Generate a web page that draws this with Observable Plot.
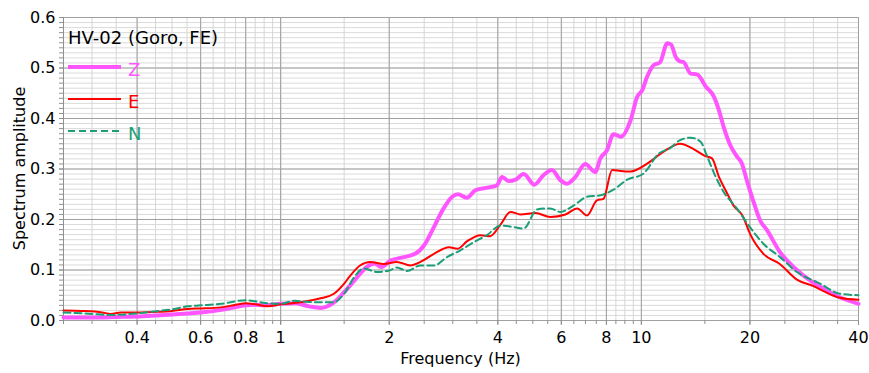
<!DOCTYPE html>
<html>
<head>
<meta charset="utf-8">
<script src="https://cdn.jsdelivr.net/npm/d3@7"></script>
<script src="https://cdn.jsdelivr.net/npm/@observablehq/plot@0.6"></script>
<style>
  body { margin: 0; background: #fff; }
  #chart svg { font-family: "DejaVu Sans", Verdana, sans-serif; display: block; }
</style>
</head>
<body>
<div id="chart"></div>
<script>
// HV-02 (Goro, FE): spectrum amplitude of the three components
const title = "HV-02 (Goro, FE)";
const xLabel = "Frequency (Hz)";
const yLabel = "Spectrum amplitude";

const freqZ = [0.25, 0.30, 0.35, 0.40, 0.45, 0.50, 0.55, 0.60, 0.70, 0.80, 0.85, 0.90, 1.00, 1.10, 1.20, 1.29, 1.40, 1.50, 1.60, 1.74, 1.82, 1.90, 2.02, 2.15, 2.36, 2.50, 2.66, 2.83, 2.99, 3.10, 3.28, 3.47, 3.81, 3.98, 4.11, 4.29, 4.48, 4.72, 5.05, 5.36, 5.65, 5.96, 6.23, 6.56, 6.99, 7.45, 7.70, 8.03, 8.37, 8.78, 9.34, 9.74, 10.06, 10.38, 10.83, 11.26, 11.80, 12.10, 12.45, 12.80, 13.07, 13.70, 14.30, 15.10, 15.90, 16.40, 16.90, 17.70, 18.40, 19.00, 19.60, 20.40, 21.35, 22.30, 24.20, 26.70, 29.40, 32.00, 35.50, 40.00];
const ampZ  = [0.006, 0.006, 0.007, 0.008, 0.010, 0.012, 0.014, 0.016, 0.022, 0.030, 0.031, 0.030, 0.033, 0.034, 0.028, 0.025, 0.035, 0.056, 0.079, 0.107, 0.113, 0.106, 0.119, 0.124, 0.132, 0.149, 0.185, 0.222, 0.245, 0.250, 0.243, 0.258, 0.264, 0.268, 0.284, 0.276, 0.279, 0.290, 0.269, 0.288, 0.298, 0.278, 0.271, 0.284, 0.310, 0.294, 0.321, 0.337, 0.369, 0.364, 0.397, 0.443, 0.456, 0.483, 0.506, 0.511, 0.549, 0.546, 0.522, 0.513, 0.512, 0.489, 0.487, 0.463, 0.443, 0.417, 0.384, 0.345, 0.325, 0.311, 0.278, 0.238, 0.198, 0.179, 0.136, 0.103, 0.079, 0.063, 0.046, 0.033];

const freqE = [0.25, 0.28, 0.32, 0.338, 0.36, 0.40, 0.445, 0.50, 0.552, 0.60, 0.682, 0.75, 0.80, 0.85, 0.92, 1.00, 1.136, 1.29, 1.405, 1.50, 1.56, 1.66, 1.775, 1.93, 2.10, 2.29, 2.44, 2.66, 2.93, 3.09, 3.29, 3.58, 3.81, 4.07, 4.34, 4.62, 5.09, 5.59, 6.16, 6.64, 7.07, 7.53, 7.85, 8.30, 8.76, 9.34, 10.40, 11.50, 12.80, 14.00, 15.00, 15.70, 16.40, 17.20, 18.00, 19.10, 20.00, 21.80, 24.20, 27.00, 30.00, 32.00, 35.50, 40.00];
const ampE  = [0.020, 0.019, 0.016, 0.013, 0.016, 0.016, 0.017, 0.019, 0.023, 0.024, 0.026, 0.031, 0.034, 0.032, 0.028, 0.032, 0.036, 0.044, 0.053, 0.073, 0.089, 0.109, 0.116, 0.112, 0.116, 0.109, 0.116, 0.132, 0.145, 0.142, 0.157, 0.169, 0.167, 0.190, 0.215, 0.210, 0.213, 0.205, 0.210, 0.222, 0.208, 0.238, 0.241, 0.298, 0.296, 0.295, 0.311, 0.334, 0.350, 0.339, 0.326, 0.321, 0.285, 0.255, 0.228, 0.207, 0.172, 0.132, 0.112, 0.081, 0.068, 0.058, 0.045, 0.041];

const freqN = [0.25, 0.30, 0.338, 0.40, 0.445, 0.50, 0.552, 0.60, 0.682, 0.80, 0.85, 0.92, 1.00, 1.09, 1.18, 1.26, 1.40, 1.50, 1.60, 1.70, 1.85, 2.00, 2.10, 2.24, 2.44, 2.66, 2.90, 3.15, 3.43, 3.73, 4.07, 4.43, 4.72, 5.14, 5.59, 5.96, 6.50, 7.07, 7.70, 8.37, 9.14, 10.10, 11.20, 12.00, 12.80, 13.70, 14.60, 15.20, 15.90, 16.90, 18.40, 20.00, 21.80, 24.20, 27.00, 31.30, 35.50, 40.00];
const ampN  = [0.016, 0.013, 0.011, 0.014, 0.018, 0.022, 0.028, 0.030, 0.033, 0.040, 0.038, 0.034, 0.033, 0.039, 0.037, 0.036, 0.036, 0.053, 0.086, 0.103, 0.096, 0.099, 0.105, 0.098, 0.109, 0.109, 0.126, 0.139, 0.155, 0.169, 0.188, 0.185, 0.182, 0.220, 0.222, 0.215, 0.228, 0.245, 0.248, 0.259, 0.279, 0.290, 0.331, 0.341, 0.357, 0.362, 0.354, 0.326, 0.292, 0.255, 0.222, 0.185, 0.152, 0.126, 0.096, 0.073, 0.053, 0.050];

const seriesNames = ["Z", "E", "N"];
const seriesColors = ["#ff55ff", "#ff0000", "#1b9e77"];

const xTickValues = [0.4, 0.6, 0.8, 1, 2, 4, 6, 8, 10, 20, 40];
const yTickValues = [0, 0.1, 0.2, 0.3, 0.4, 0.5, 0.6];

// minor grid: 0.05 steps below 1 Hz, 0.5 steps to 10 Hz, 5 steps beyond
const xMinor = [
  ...d3.range(5, 21).map(i => i / 20),
  ...d3.range(2, 20).map(i => i / 2),
  ...d3.range(2, 9).map(i => i * 5)
];
const yMinor = d3.range(0, 61).map(i => i / 100);

const rows = (name, fs, as) => fs.map((f, i) => ({series: name, f, a: as[i]}));
const dataZ = rows("Z", freqZ, ampZ);
const dataE = rows("E", freqE, ampE);
const dataN = rows("N", freqN, ampN);

const lineStyle = {
  Z: {stroke: seriesColors[0], strokeWidth: 4},
  E: {stroke: seriesColors[1], strokeWidth: 2},
  N: {stroke: seriesColors[2], strokeWidth: 2, strokeDasharray: "7,4"}
};

const chart = Plot.plot({
  width: 869,
  height: 373,
  marginLeft: 63,
  marginRight: 11,
  marginTop: 17,
  marginBottom: 53,
  style: {fontFamily: "DejaVu Sans, Verdana, sans-serif", fontSize: "16px", color: "#000", background: "#fff"},
  x: {type: "log", domain: [0.25, 40]},
  y: {domain: [0, 0.6]},
  marks: [
    Plot.ruleY(yMinor, {stroke: "#dadada", strokeWidth: 1}),
    Plot.ruleX(xMinor, {stroke: "#d6d6d6", strokeWidth: 1}),
    Plot.ruleY(yTickValues, {stroke: "#a0a0a0", strokeWidth: 1}),
    Plot.ruleX(xTickValues, {stroke: "#a0a0a0", strokeWidth: 1}),
    Plot.ruleX([0.25], {stroke: "#909090"}),
    Plot.axisY(yMinor, {tickSize: 4, text: () => "", label: null, stroke: "#909090"}),
    Plot.axisX(xMinor, {tickSize: 4, text: () => "", label: null, stroke: "#909090"}),
    Plot.axisY(yTickValues, {tickSize: 4, tickPadding: 4, text: d => d3.format(".1f")(d), label: null, stroke: "#909090", fontSize: 16}),
    Plot.axisX(xTickValues, {tickSize: 5, tickPadding: 6, text: d => String(d), label: null, stroke: "#909090", fontSize: 16}),
    Plot.line(dataZ, {x: "f", y: "a", curve: "monotone-x", ...lineStyle.Z}),
    Plot.line(dataE, {x: "f", y: "a", curve: "monotone-x", ...lineStyle.E}),
    Plot.line(dataN, {x: "f", y: "a", curve: "monotone-x", ...lineStyle.N})
  ]
});

const svg = d3.select(chart);
const font = "DejaVu Sans, Verdana, sans-serif";

// axis titles
svg.append("text")
  .attr("font-family", font).attr("font-size", 16).attr("fill", "#000")
  .attr("text-anchor", "middle")
  .attr("x", 460.5).attr("y", 364)
  .text(xLabel);
svg.append("text")
  .attr("font-family", font).attr("font-size", 16).attr("fill", "#000")
  .attr("text-anchor", "middle")
  .attr("transform", "translate(25,168.5) rotate(-90)")
  .text(yLabel);

// title and key in the upper-left corner of the plot area
const key = svg.append("g")
  .attr("font-size", 18).attr("font-family", font).attr("text-anchor", "start");
key.append("text").attr("x", 68).attr("y", 44).attr("fill", "#000").text(title);
seriesNames.forEach((name, i) => {
  const cy = 67 + i * 32;
  const st = lineStyle[name];
  key.append("line")
    .attr("x1", 68).attr("x2", 121).attr("y1", cy).attr("y2", cy)
    .attr("stroke", st.stroke).attr("stroke-width", st.strokeWidth)
    .attr("stroke-dasharray", st.strokeDasharray || null);
  key.append("text").attr("x", 128).attr("y", cy + 9).attr("fill", st.stroke).text(name);
});

document.getElementById("chart").appendChild(chart);
</script>
</body>
</html>
